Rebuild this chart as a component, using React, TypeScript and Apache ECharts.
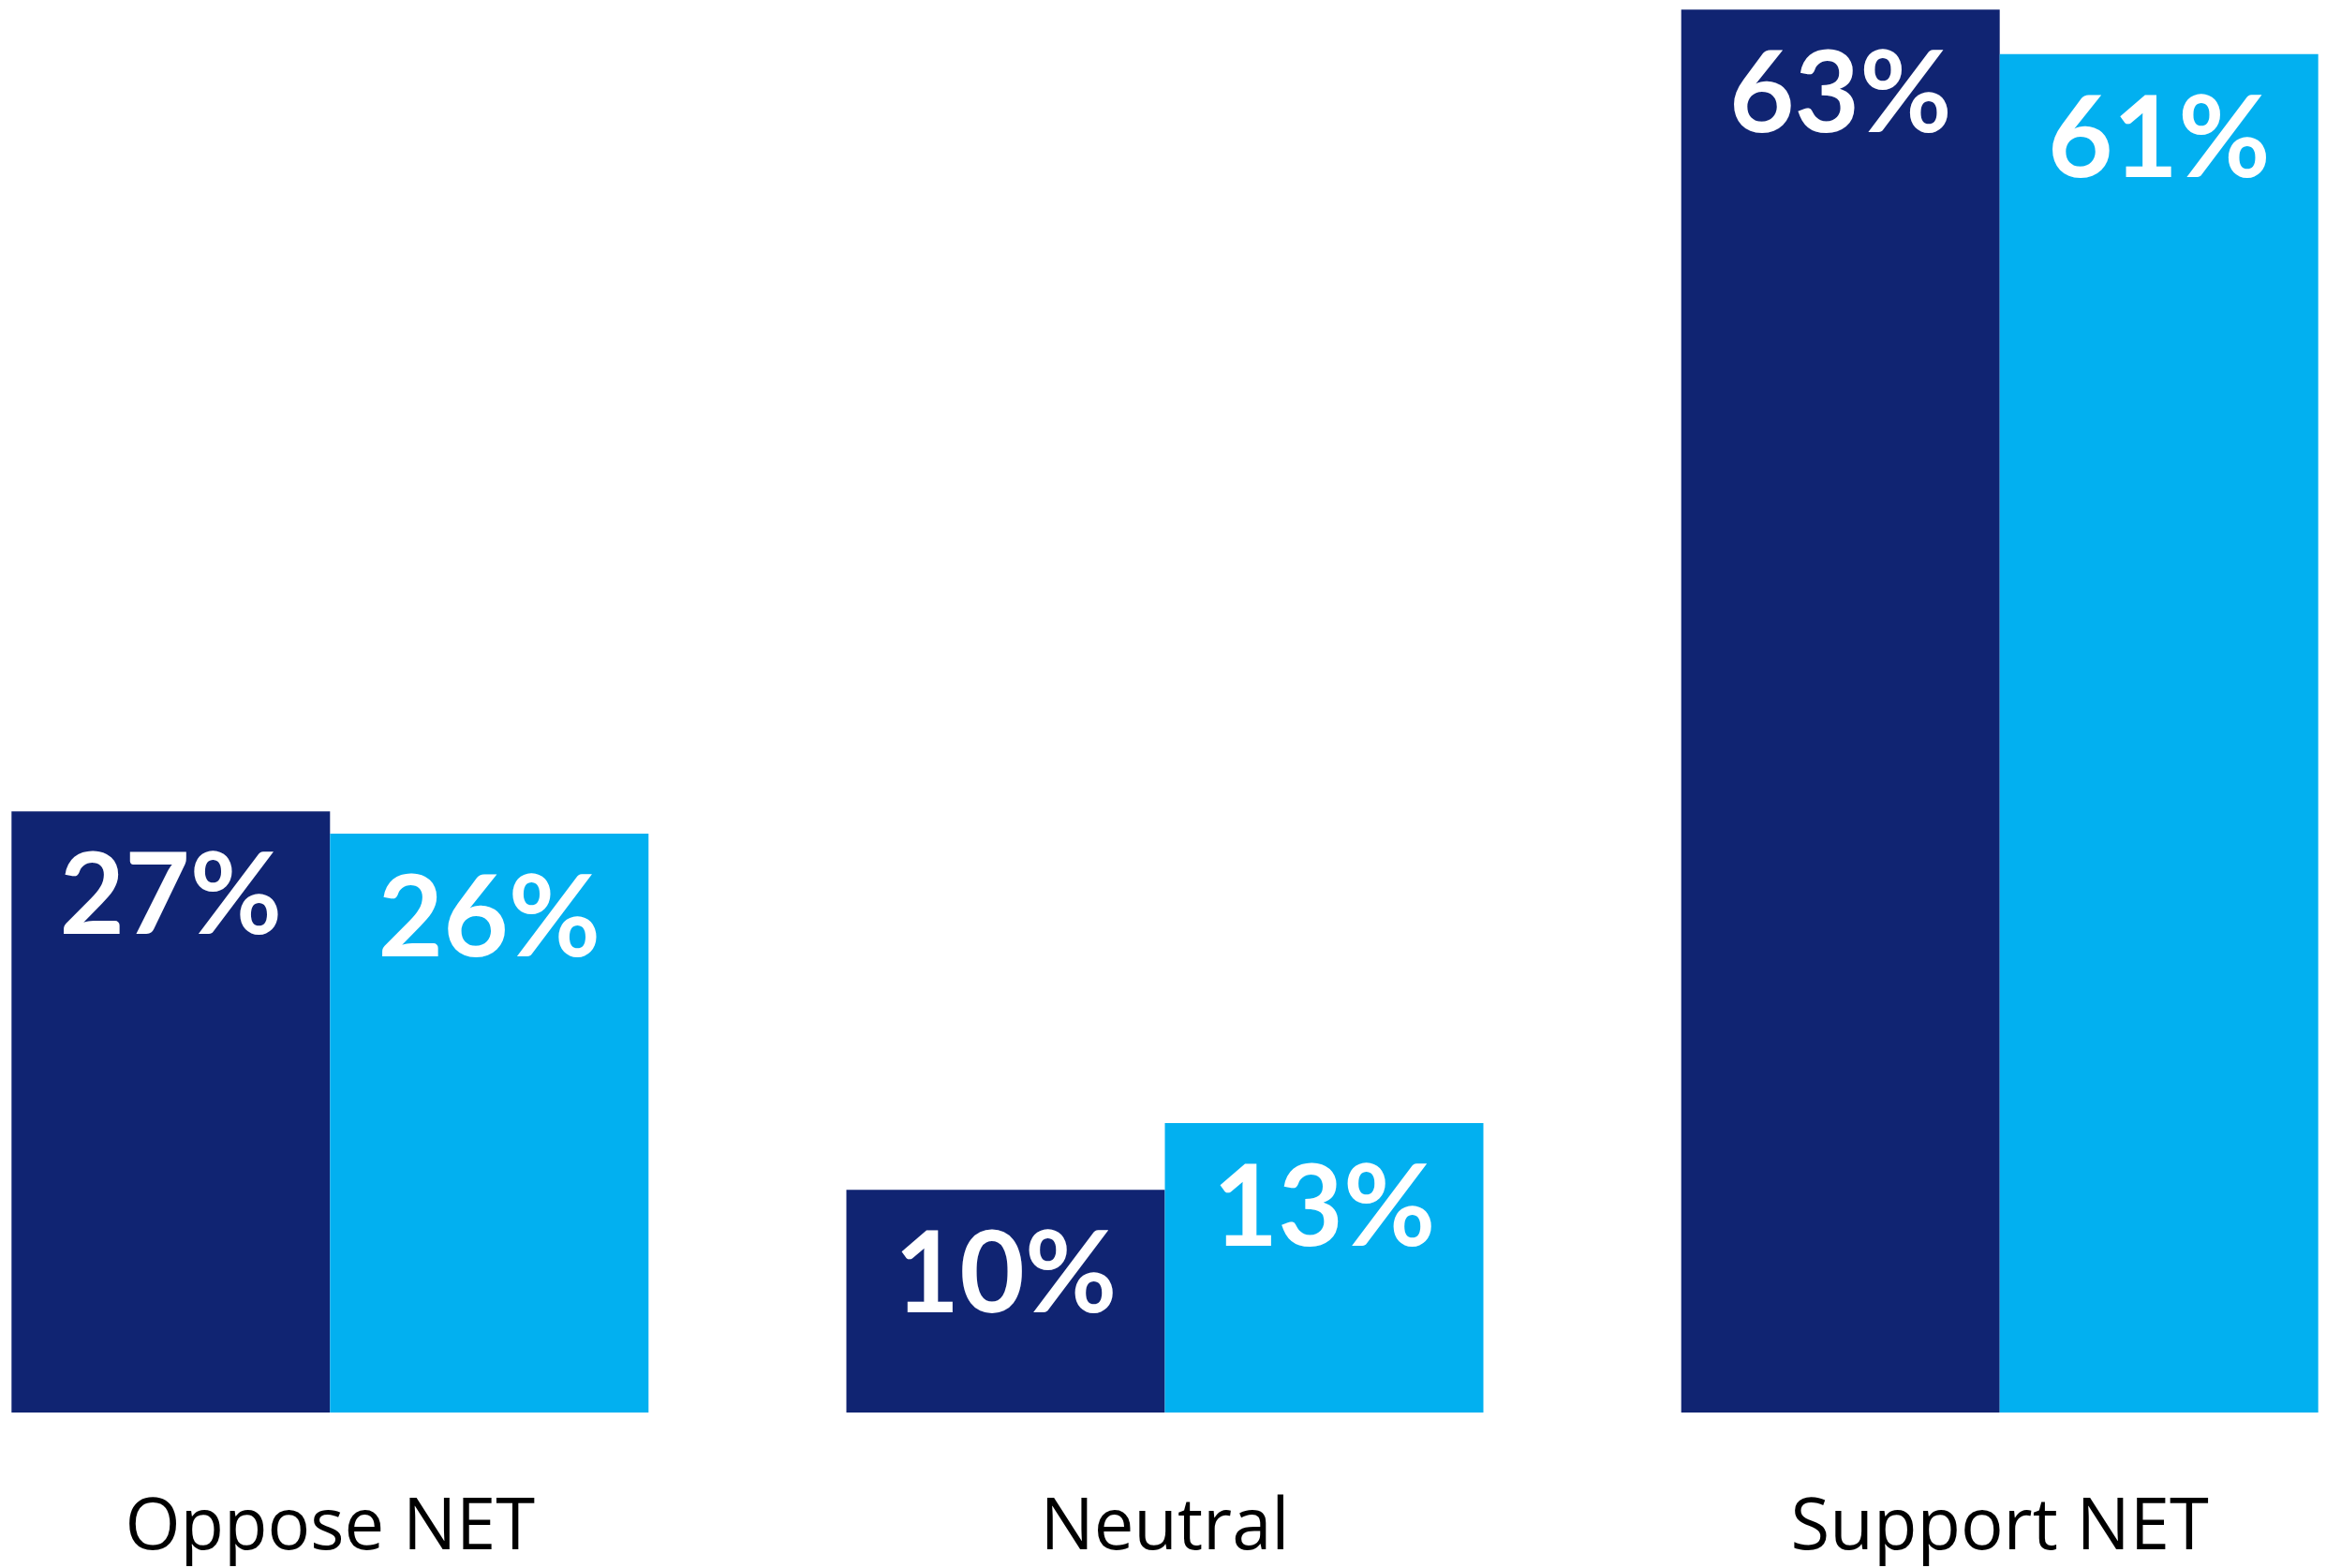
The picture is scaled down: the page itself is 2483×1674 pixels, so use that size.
import React, { useEffect, useRef } from "react";
import * as echarts from "echarts";

const categories = ["Oppose NET", "Neutral", "Support NET"];
const seriesA = [27, 10, 63];
const seriesB = [26, 13, 61];
const seriesNames = ["Group A", "Group B"];
const colors = ["#102472", "#02B0F0"];

export default function App() {
  const ref = useRef<HTMLDivElement>(null);
  useEffect(() => {
    document.body.style.margin = "0";
    document.body.style.overflow = "hidden";
    const chart = echarts.init(ref.current!, null, { renderer: "svg" });
    const label = {
      show: true,
      position: "insideTop",
      distance: 25,
      color: "#FFFFFF",
      fontFamily: "Lato",
      fontWeight: "bold",
      fontSize: 120,
      formatter: (p: any) => `${p.value}%`,
    };
    chart.setOption({
      animation: false,
      backgroundColor: "#FFFFFF",
      grid: { left: 352.3, right: 348.3, top: 10.3, bottom: 166, containLabel: false },
      xAxis: {
        type: "category",
        data: categories,
        boundaryGap: false,
        axisLine: { show: false },
        axisTick: { show: false },
        splitLine: { show: false },
        axisLabel: {
          color: "#000000",
          fontFamily: "Open Sans",
          fontSize: 76,
          margin: 78,
        },
      },
      yAxis: {
        type: "value",
        min: 0,
        max: 63,
        show: false,
        splitLine: { show: false },
      },
      series: [
        {
          name: seriesNames[0],
          type: "bar",
          data: seriesA,
          barWidth: 340,
          barGap: "0%",
          itemStyle: { color: colors[0] },
          label,
        },
        {
          name: seriesNames[1],
          type: "bar",
          data: seriesB,
          barWidth: 340,
          barGap: "0%",
          itemStyle: { color: colors[1] },
          label,
        },
      ],
    });
    return () => chart.dispose();
  }, []);
  return <div ref={ref} style={{ width: 2483, height: 1674 }} />;
}
